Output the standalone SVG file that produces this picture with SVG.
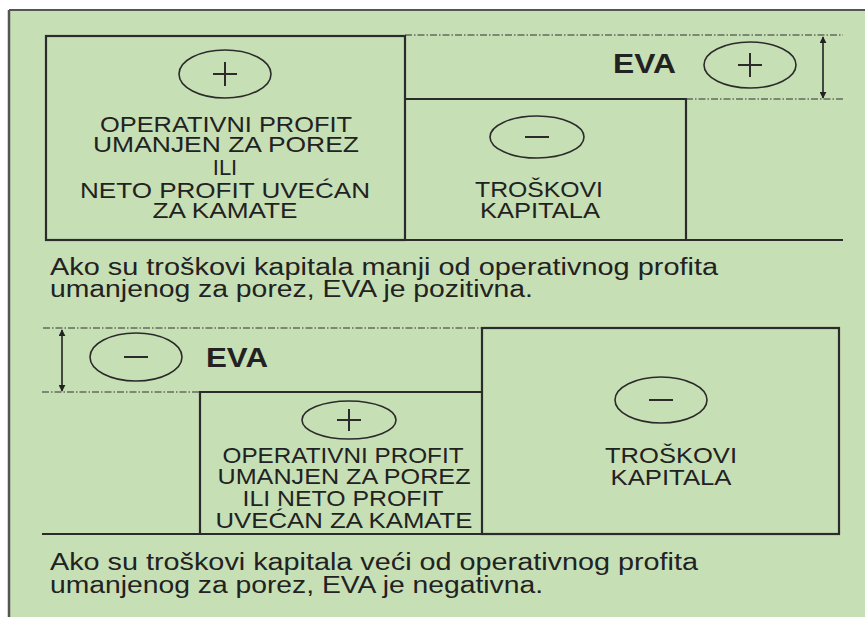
<svg xmlns="http://www.w3.org/2000/svg" width="865" height="617" viewBox="0 0 865 617">
<style>
.box{fill:none;stroke:#2b2b2b;stroke-width:2.2}
.ln{stroke:#2b2b2b;stroke-width:2.2;fill:none}
.dash{stroke:#333;stroke-width:1.2;stroke-dasharray:7 2 1.5 2;fill:none}
.ell{fill:none;stroke:#2b2b2b;stroke-width:1.6}
.sign{stroke:#2b2b2b;stroke-width:2;fill:none}
.arr{stroke:#222;stroke-width:1.6;fill:none;marker-start:url(#ah);marker-end:url(#ah)}
.lbl{font-family:"Liberation Sans",Arial,sans-serif;font-size:22px;fill:#222;text-anchor:middle}
.eva{font-family:"Liberation Sans",Arial,sans-serif;font-size:28px;font-weight:bold;fill:#222}
.par{font-family:"Liberation Sans",Arial,sans-serif;font-size:23px;fill:#222}
</style>
<defs>
<marker id="ah" viewBox="0 0 10 10" refX="9" refY="5" markerWidth="7" markerHeight="7" orient="auto-start-reverse" markerUnits="userSpaceOnUse">
<path d="M0,0 L10,5 L0,10 z" fill="#222"/>
</marker>
</defs>
<rect x="0" y="0" width="865" height="617" fill="#ffffff"/>
<rect x="9" y="10" width="856" height="607" fill="#c7dfb5"/>
<line x1="9" y1="10" x2="865" y2="10" stroke="#555" stroke-width="2"/>
<line x1="9" y1="10" x2="9" y2="617" stroke="#555" stroke-width="2.5"/>

<!-- Top diagram -->
<g id="top-profit">
<rect class="box" x="46" y="36" width="359" height="204"/>
<ellipse class="ell" cx="225" cy="74" rx="46" ry="24"/>
<path class="sign" d="M213,74 H237 M225,62 V86"/>
<text class="lbl" x="226" y="132" textLength="252" lengthAdjust="spacingAndGlyphs">OPERATIVNI PROFIT</text>
<text class="lbl" x="226" y="152" textLength="266" lengthAdjust="spacingAndGlyphs">UMANJEN ZA POREZ</text>
<text class="lbl" x="225" y="175">ILI</text>
<text class="lbl" x="225" y="198" textLength="290" lengthAdjust="spacingAndGlyphs">NETO PROFIT UVEĆAN</text>
<text class="lbl" x="225" y="218" textLength="145" lengthAdjust="spacingAndGlyphs">ZA KAMATE</text>
</g>
<g id="top-troskovi">
<path class="ln" d="M405,99 H686 V240"/>
<ellipse class="ell" cx="537" cy="137" rx="47" ry="21"/>
<path class="sign" d="M525,137 H549"/>
<text class="lbl" x="539" y="197" textLength="128" lengthAdjust="spacingAndGlyphs">TROŠKOVI</text>
<text class="lbl" x="540" y="218" textLength="120" lengthAdjust="spacingAndGlyphs">KAPITALA</text>
</g>
<g id="top-eva">
<text class="eva" x="613" y="73" textLength="63" lengthAdjust="spacingAndGlyphs">EVA</text>
<ellipse class="ell" cx="750" cy="65" rx="46" ry="23"/>
<path class="sign" d="M738,65 H762 M750,53 V77"/>
</g>
<g id="top-connectors">
<line class="ln" x1="405" y1="240" x2="843" y2="240"/>
<line class="dash" x1="405" y1="35" x2="843" y2="35"/>
<line class="dash" x1="686" y1="99" x2="843" y2="99"/>
<line class="arr" x1="823" y1="37" x2="823" y2="98"/>
</g>
<text class="par" x="50" y="275" textLength="668" lengthAdjust="spacingAndGlyphs">Ako su troškovi kapitala manji od operativnog profita</text>
<text class="par" x="50" y="297" textLength="483" lengthAdjust="spacingAndGlyphs">umanjenog za porez, EVA je pozitivna.</text>

<!-- Bottom diagram -->
<g id="bottom-eva">
<ellipse class="ell" cx="136" cy="357" rx="46" ry="24"/>
<path class="sign" d="M124,357 H148"/>
<text class="eva" x="206" y="367" textLength="62" lengthAdjust="spacingAndGlyphs">EVA</text>
</g>
<g id="bottom-profit">
<path class="ln" d="M200,534 V392 H482"/>
<ellipse class="ell" cx="349" cy="420" rx="47" ry="19"/>
<path class="sign" d="M337,420 H361 M349,409 V431"/>
<text class="lbl" x="343" y="463" textLength="241" lengthAdjust="spacingAndGlyphs">OPERATIVNI PROFIT</text>
<text class="lbl" x="344" y="484" textLength="253" lengthAdjust="spacingAndGlyphs">UMANJEN ZA POREZ</text>
<text class="lbl" x="343" y="506" textLength="201" lengthAdjust="spacingAndGlyphs">ILI NETO PROFIT</text>
<text class="lbl" x="344" y="528" textLength="257" lengthAdjust="spacingAndGlyphs">UVEĆAN ZA KAMATE</text>
</g>
<g id="bottom-troskovi">
<rect class="box" x="482" y="328" width="357" height="206"/>
<ellipse class="ell" cx="661" cy="400" rx="46" ry="23"/>
<path class="sign" d="M649,400 H673"/>
<text class="lbl" x="671" y="463" textLength="132" lengthAdjust="spacingAndGlyphs">TROŠKOVI</text>
<text class="lbl" x="671" y="485" textLength="121" lengthAdjust="spacingAndGlyphs">KAPITALA</text>
</g>
<g id="bottom-connectors">
<line class="ln" x1="42" y1="534" x2="482" y2="534"/>
<line class="dash" x1="43" y1="328" x2="482" y2="328"/>
<line class="dash" x1="42" y1="392" x2="200" y2="392"/>
<line class="arr" x1="62" y1="330" x2="62" y2="391"/>
</g>
<text class="par" x="50" y="570" textLength="648" lengthAdjust="spacingAndGlyphs">Ako su troškovi kapitala veći od operativnog profita</text>
<text class="par" x="50" y="593" textLength="493" lengthAdjust="spacingAndGlyphs">umanjenog za porez, EVA je negativna.</text>
</svg>
